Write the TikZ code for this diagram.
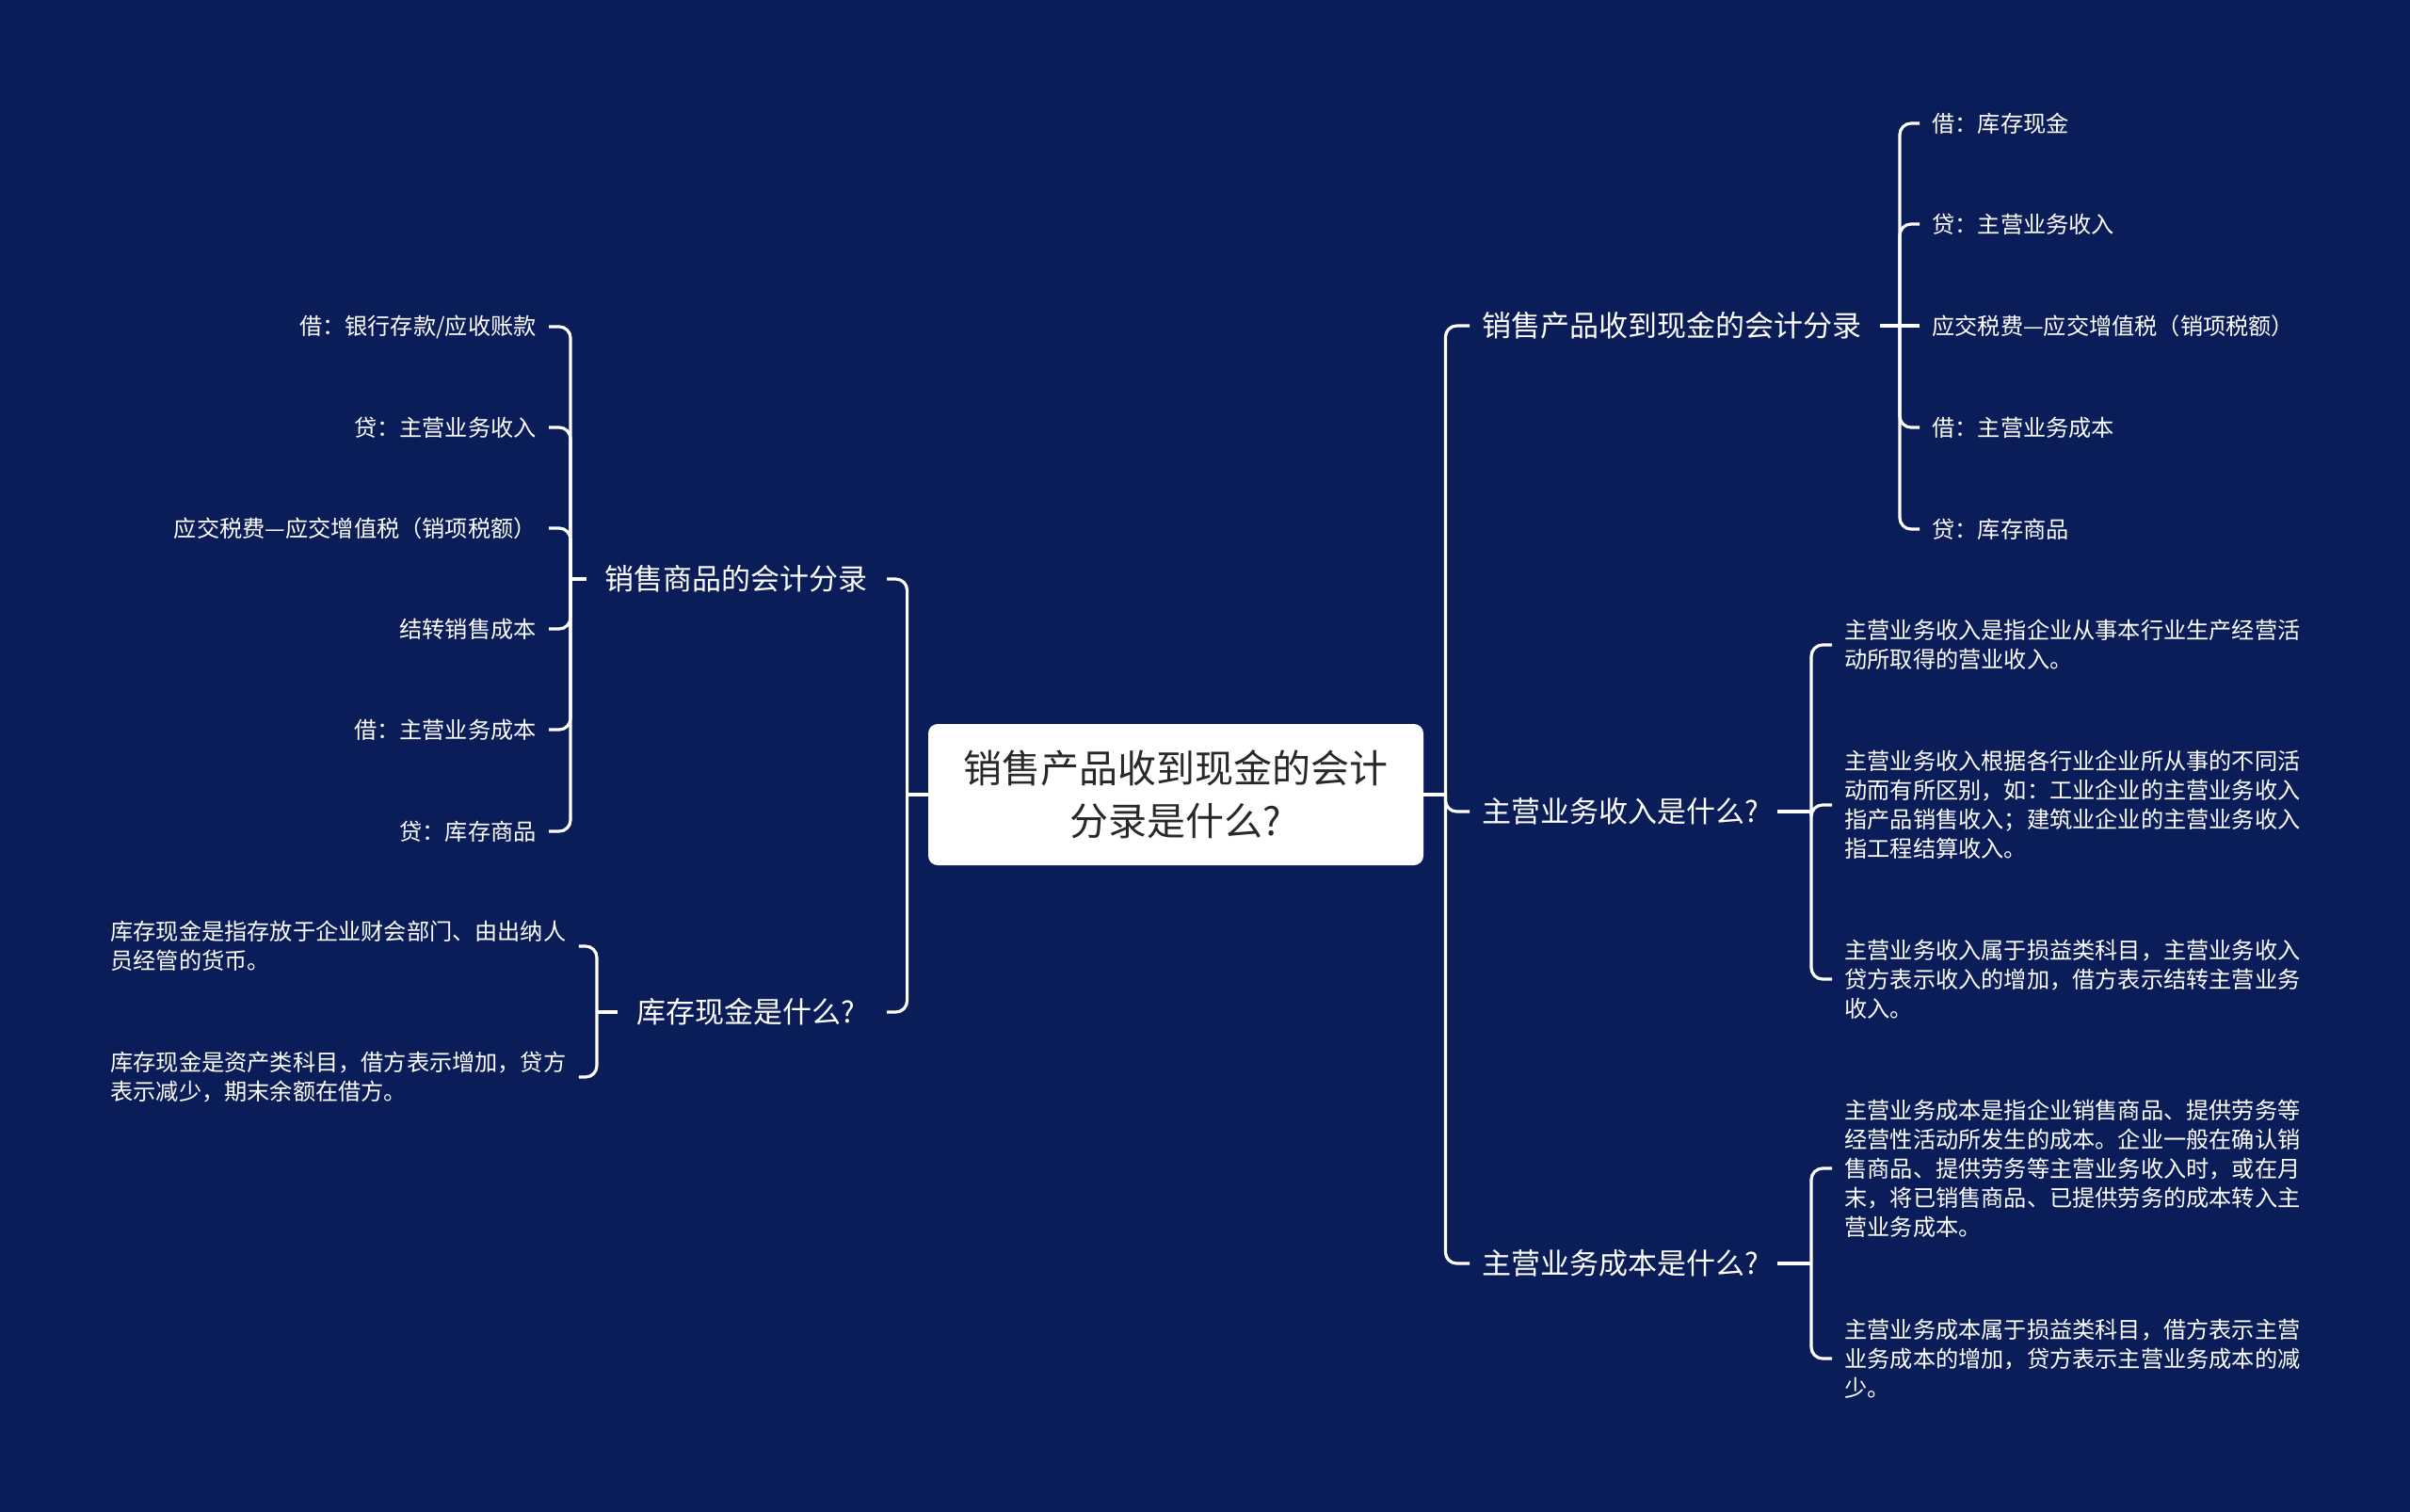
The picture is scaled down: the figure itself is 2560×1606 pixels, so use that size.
\documentclass[tikz,border=0pt]{standalone}
\usepackage{fontspec}
\setmainfont{Noto Sans CJK SC}
\usetikzlibrary{calc}
\definecolor{bg}{RGB}{11,29,88}
\definecolor{roottext}{RGB}{40,40,40}
\begin{document}
\begin{tikzpicture}[x=0.5pt,y=-0.5pt,
 conn/.style={draw=white,line width=1.6pt,rounded corners=6pt},
 lvlone/.style={text=white,inner sep=0pt,font=\fontsize{15.5}{18}\selectfont},
 leaf/.style={text=white,inner sep=0pt,font=\fontsize{12.1}{15.5}\selectfont},
 para/.style={leaf,align=left},
 rootbox/.style={fill=white,rounded corners=5pt,minimum width=263pt,minimum height=75pt,inner sep=0pt,align=center,text=roottext,font=\fontsize{20.5}{28}\selectfont}]
\fill[bg] (0,0) rectangle (2560,1606);
\useasboundingbox (0,0) rectangle (2560,1606);

% root
\node[rootbox] (root) at (1249,844) {销售产品收到现金的会计\\分录是什么?};

% right level 1
\node[lvlone,anchor=west] (r1) at (1574,346) {销售产品收到现金的会计分录};
\node[lvlone,anchor=west] (r2) at (1574,862) {主营业务收入是什么?};
\node[lvlone,anchor=west] (r3) at (1574,1342) {主营业务成本是什么?};

% left level 1
\node[lvlone,anchor=east] (l1) at (922,615) {销售商品的会计分录};
\node[lvlone,anchor=east] (l2) at (909,1075) {库存现金是什么?};

% r1 leaves
\node[leaf,anchor=west] (r1a) at (2052,131) {借：库存现金};
\node[leaf,anchor=west] (r1b) at (2052,238) {贷：主营业务收入};
\node[leaf,anchor=west] (r1c) at (2052,346) {应交税费—应交增值税（销项税额）};
\node[leaf,anchor=west] (r1d) at (2052,454) {借：主营业务成本};
\node[leaf,anchor=west] (r1e) at (2052,562) {贷：库存商品};

% r2 leaves
\node[para,anchor=west] (r2a) at (1959,685) {主营业务收入是指企业从事本行业生产经营活\\动所取得的营业收入。};
\node[para,anchor=west] (r2b) at (1959,855) {主营业务收入根据各行业企业所从事的不同活\\动而有所区别，如：工业企业的主营业务收入\\指产品销售收入；建筑业企业的主营业务收入\\指工程结算收入。};
\node[para,anchor=west] (r2c) at (1959,1040) {主营业务收入属于损益类科目，主营业务收入\\贷方表示收入的增加，借方表示结转主营业务\\收入。};

% r3 leaves
\node[para,anchor=west] (r3a) at (1959,1241) {主营业务成本是指企业销售商品、提供劳务等\\经营性活动所发生的成本。企业一般在确认销\\售商品、提供劳务等主营业务收入时，或在月\\末，将已销售商品、已提供劳务的成本转入主\\营业务成本。};
\node[para,anchor=west] (r3b) at (1959,1443) {主营业务成本属于损益类科目，借方表示主营\\业务成本的增加，贷方表示主营业务成本的减\\少。};

% l1 leaves
\node[leaf,anchor=east] (l1a) at (570,347) {借：银行存款/应收账款};
\node[leaf,anchor=east] (l1b) at (570,454) {贷：主营业务收入};
\node[leaf,anchor=east] (l1c) at (570,561) {应交税费—应交增值税（销项税额）};
\node[leaf,anchor=east] (l1d) at (570,668) {结转销售成本};
\node[leaf,anchor=east] (l1e) at (570,775) {借：主营业务成本};
\node[leaf,anchor=east] (l1f) at (570,883) {贷：库存商品};

% l2 leaves
\node[para,anchor=west] (l2a) at (117,1005) {库存现金是指存放于企业财会部门、由出纳人\\员经管的货币。};
\node[para,anchor=west] (l2b) at (117,1144) {库存现金是资产类科目，借方表示增加，贷方\\表示减少，期末余额在借方。};

% junctions
\coordinate (rj) at ($(root.east)+(23,0)$);
\coordinate (lj) at ($(root.west)+(-22,0)$);
\coordinate (r1j) at (2018,346);
\coordinate (r2j) at (1924,862);
\coordinate (r3j) at (1924,1342);
\coordinate (l1j) at (606,615);
\coordinate (l2j) at (634,1075);

% root connectors
\draw[conn] (root.east) -- (rj);
\draw[conn] (root.west) -- (lj);
\draw[conn] (rj) |- ($(r1.west)+(-13,0)$);
\draw[conn] (rj) |- ($(r2.west)+(-13,0)$);
\draw[conn] (rj) |- ($(r3.west)+(-13,0)$);
\draw[conn] (lj) |- ($(l1.east)+(20,0)$);
\draw[conn] (lj) |- ($(l2.east)+(33,0)$);

% r1 connectors
\draw[conn] ($(r1.east)+(19,0)$) -- (r1j);
\draw[conn] (r1j) |- ($(r1a.west)+(-13,0)$);
\draw[conn] (r1j) |- ($(r1b.west)+(-13,0)$);
\draw[conn] (r1j) -- ($(r1c.west)+(-13,0)$);
\draw[conn] (r1j) |- ($(r1d.west)+(-13,0)$);
\draw[conn] (r1j) |- ($(r1e.west)+(-13,0)$);

% r2 connectors
\draw[conn] ($(r2.east)+(19,0)$) -- (r2j);
\draw[conn] (r2j) |- ($(r2a.west)+(-13,0)$);
\draw[conn] (r2j) |- ($(r2b.west)+(-13,0)$);
\draw[conn] (r2j) |- ($(r2c.west)+(-13,0)$);

% r3 connectors
\draw[conn] ($(r3.east)+(19,0)$) -- (r3j);
\draw[conn] (r3j) |- ($(r3a.west)+(-13,0)$);
\draw[conn] (r3j) |- ($(r3b.west)+(-13,0)$);

% l1 connectors
\draw[conn] ($(l1.west)+(-19,0)$) -- (l1j);
\draw[conn] (l1j) |- ($(l1a.east)+(13,0)$);
\draw[conn] (l1j) |- ($(l1b.east)+(13,0)$);
\draw[conn] (l1j) |- ($(l1c.east)+(13,0)$);
\draw[conn] (l1j) |- ($(l1d.east)+(13,0)$);
\draw[conn] (l1j) |- ($(l1e.east)+(13,0)$);
\draw[conn] (l1j) |- ($(l1f.east)+(13,0)$);

% l2 connectors
\draw[conn] ($(l2.west)+(-21,0)$) -- (l2j);
\draw[conn] (l2j) |- ($(l2a.east)+(13,0)$);
\draw[conn] (l2j) |- ($(l2b.east)+(13,0)$);
\end{tikzpicture}
\end{document}
